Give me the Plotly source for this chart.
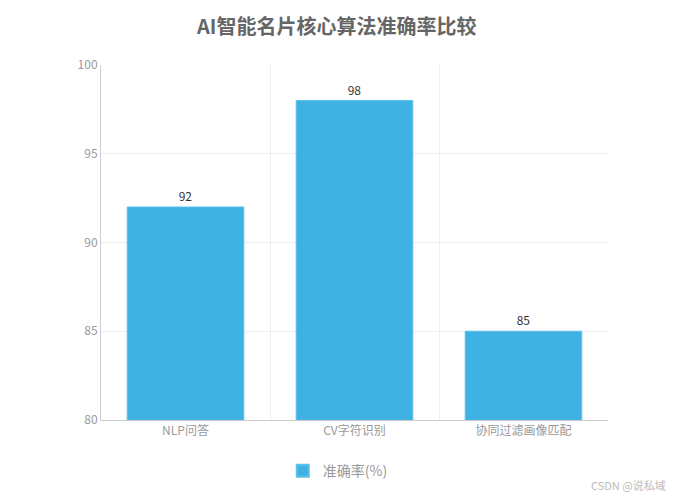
import plotly.graph_objects as go

categories = ["NLP问答", "CV字符识别", "协同过滤画像匹配"]
accuracy = [92, 98, 85]
series_name = "准确率(%)"
y_ticks = [80, 85, 90, 95, 100]

font_family = "Noto Sans CJK SC, Noto Sans, sans-serif"

fig = go.Figure()
fig.add_trace(go.Bar(
    x=categories,
    y=accuracy,
    name=series_name,
    marker=dict(color="#3fb1e3", line=dict(color="#5cc0ea", width=1)),
    text=accuracy,
    textposition="outside",
    textfont=dict(color="#333333", size=12, family=font_family),
    cliponaxis=False,
    showlegend=True,
))

fig.update_layout(
    width=675, height=500,
    margin=dict(l=93, r=75, t=57, b=88),
    paper_bgcolor="white",
    plot_bgcolor="white",
    font=dict(family=font_family, color="#999999", size=12),
    title=dict(
        text="<b>AI智能名片核心算法准确率比较</b>",
        x=0.487, xanchor="center", y=0.962, yanchor="middle",
        font=dict(size=20, color="#666666", family=font_family),
    ),
    bargap=0.31,
    showlegend=True,
    legend=dict(
        orientation="h", x=0.467, xanchor="center", y=-0.144, yanchor="middle",
        font=dict(size=14, color="#999999", family=font_family),
        itemsizing="constant",
    ),
    xaxis=dict(
        tickson="boundaries",
        showgrid=True, gridcolor="#eeeeee", gridwidth=1,
        showline=True, linecolor="#cccccc", linewidth=1,
        ticks="", tickfont=dict(size=12, color="#999999"),
        mirror=False,
    ),
    yaxis=dict(
        range=[80, 100],
        tickvals=y_ticks,
        showgrid=True, gridcolor="#eeeeee", gridwidth=1,
        showline=True, linecolor="#cccccc", linewidth=1,
        ticks="", tickfont=dict(size=12, color="#999999"),
        zeroline=False,
    ),
    annotations=[dict(
        text="CSDN @说私域", x=1.118, xref="paper", xanchor="right",
        y=-0.183, yref="paper", yanchor="middle",
        showarrow=False, font=dict(size=11, color="#bbbbbb", family=font_family),
    )],
)

fig.write_html("out.html")
